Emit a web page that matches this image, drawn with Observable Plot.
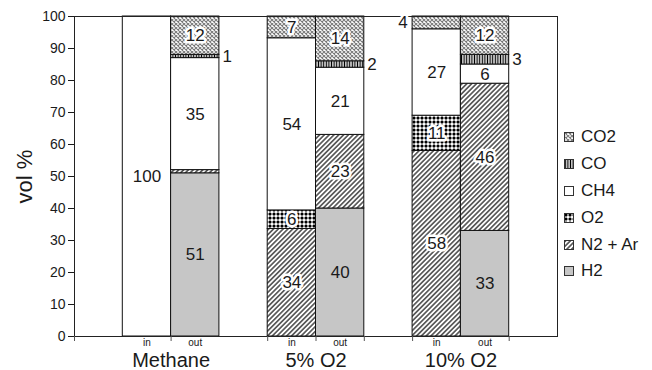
<!DOCTYPE html>
<html>
<head>
<meta charset="utf-8">
<script src="https://cdn.jsdelivr.net/npm/d3@7"></script>
<script src="https://cdn.jsdelivr.net/npm/@observablehq/plot@0.6"></script>
<style>
  body { margin: 0; background: #fff; font-family: Arial, "Liberation Sans", sans-serif; }
  #wrap { position: relative; width: 652px; height: 370px; }
  #legend { position: absolute; left: 564px; top: 124px; font-size: 17px; color: #1a1a1a; }
  .item { display: flex; align-items: center; height: 26.8px; white-space: nowrap; }
  .item svg { margin-right: 7px; }
</style>
</head>
<body>
<svg width="0" height="0" style="position:absolute">
  <defs>
    <pattern id="pat-n2" width="3.4" height="3.4" patternUnits="userSpaceOnUse" patternTransform="rotate(45)">
      <rect width="3.4" height="3.4" fill="white"/>
      <line x1="1.7" y1="0" x2="1.7" y2="3.4" stroke="black" stroke-width="1.1"/>
    </pattern>
    <pattern id="pat-o2" width="4" height="4" patternUnits="userSpaceOnUse">
      <rect width="4" height="4" fill="white"/>
      <path d="M0,2H4M2,0V4" stroke="black" stroke-width="0.3"/>
      <circle cx="2" cy="2" r="1.5" fill="black"/>
    </pattern>
    <pattern id="pat-co" width="2.6" height="4" patternUnits="userSpaceOnUse">
      <rect width="2.6" height="4" fill="white"/>
      <line x1="1.3" y1="0" x2="1.3" y2="4" stroke="black" stroke-width="1.3"/>
    </pattern>
    <pattern id="pat-co2" width="4" height="4" patternUnits="userSpaceOnUse">
      <rect width="4" height="4" fill="white"/>
      <path d="M0,0L4,4M4,0L0,4" stroke="#7a7a7a" stroke-width="1.1"/>
    </pattern>
  </defs>
</svg>
<div id="wrap"><div id="legend"></div></div>
<script>
// Gas composition (vol %) of feed ("in") and product ("out") streams
const groups = ["Methane", "5% O2", "10% O2"];
const stages = ["in", "out"];
const gases = ["H2", "N2 + Ar", "O2", "CH4", "CO", "CO2"];

// one entry per bar: Methane in, Methane out, 5% O2 in, 5% O2 out, 10% O2 in, 10% O2 out
const h2   = [0,   51, 0,    40, 0,  33];
const n2Ar = [0,   1,  33.6, 23, 58, 46];
const o2   = [0,   0,  5.8,  0,  11, 0];
const ch4  = [100, 35, 53.8, 21, 27, 6];
const co   = [0,   1,  0,    2,  0,  3];
const co2  = [0,   12, 6.8,  14, 4,  12];

const yTicks = [0, 10, 20, 30, 40, 50, 60, 70, 80, 90, 100];
const xTickSlots = [0, 2, 4, 5, 6, 7, 9];

const fills = {
  "H2": "#c6c6c6",
  "N2 + Ar": "url(#pat-n2)",
  "O2": "url(#pat-o2)",
  "CH4": "white",
  "CO": "url(#pat-co)",
  "CO2": "url(#pat-co2)"
};

// segments that carry no value label
const unlabeled = new Set(["Methane out|N2 + Ar"]);

const series = [h2, n2Ar, o2, ch4, co, co2];
const rows = [];
const centers = [];
groups.forEach((group, gi) => {
  stages.forEach((stage, si) => {
    const bar = gi * 2 + si;
    const slot = 1 + gi * 3 + si; // an empty slot separates each pair of bars
    centers.push({pos: slot + 0.5, label: stage});
    let base = 0;
    gases.forEach((gas, k) => {
      const value = series[k][bar];
      if (value > 0) {
        rows.push({group, stage, gas, value, x1: slot, x2: slot + 1, y1: base, y2: base + value,
                   key: `${group} ${stage}|${gas}`});
      }
      base += value;
    });
  });
});
const groupCenters = groups.map((g, gi) => ({pos: 2 + gi * 3, label: g}));

const fmt = d3.format(".0f");
const labelled = rows.filter(d => !unlabeled.has(d.key));
const inside = labelled.filter(d => d.value >= 5);
const plain = inside.filter(d => d.gas === "H2" || d.gas === "CH4");
const boxed = inside.filter(d => !(d.gas === "H2" || d.gas === "CH4"));
const outRight = labelled.filter(d => d.value < 5 && d.gas !== "CO2");
const outLeft = labelled.filter(d => d.value < 5 && d.gas === "CO2");

const mid = d => (d.y1 + d.y2) / 2;
const cx = d => (d.x1 + d.x2) / 2;
const ink = "#1a1a1a";

const chart = Plot.plot({
  width: 652,
  height: 370,
  marginLeft: 74,
  marginRight: 95,
  marginTop: 16,
  marginBottom: 34,
  style: {fontFamily: "Arial, 'Liberation Sans', sans-serif", color: ink, background: "white"},
  x: {domain: [0, 10]},
  y: {domain: [0, 100]},
  color: {type: "ordinal", domain: gases, range: gases.map(g => fills[g])},
  marks: [
    Plot.rect(rows, {x1: "x1", x2: "x2", y1: "y1", y2: "y2", fill: "gas", stroke: "#111", strokeWidth: 1}),
    Plot.frame({stroke: "#222"}),
    Plot.axisY({ticks: yTicks, tickSize: 6, tickPadding: 3, fontSize: 14, label: null}),
    Plot.axisY({ticks: [], label: "vol %", labelAnchor: "center", labelArrow: "none", labelOffset: 58, fontSize: 22, dy: -5}),
    Plot.axisX({ticks: xTickSlots, tickFormat: () => "", tickSize: 5, label: null, stroke: "#555"}),
    Plot.axisX({ticks: centers.map(d => d.pos), tickFormat: (v, i) => centers[i].label, tickSize: 0, tickPadding: 2, fontSize: 10, label: null}),
    Plot.axisX({ticks: groupCenters.map(d => d.pos), tickFormat: (v, i) => groupCenters[i].label, tickSize: 0, tickPadding: 16, fontSize: 20, label: null}),
    Plot.text(plain, {x: cx, y: mid, text: d => fmt(d.value), fontSize: 17, fill: ink}),
    Plot.text(boxed, {x: cx, y: mid, text: d => fmt(d.value), fontSize: 17, fill: ink, stroke: "white", strokeWidth: 5}),
    Plot.text(outRight, {x: "x2", y: mid, text: d => fmt(d.value), fontSize: 17, fill: ink, textAnchor: "start", dx: 3, stroke: "white", strokeWidth: 4}),
    Plot.text(outLeft, {x: "x1", y: mid, text: d => fmt(d.value), fontSize: 17, fill: ink, textAnchor: "end", dx: -5, stroke: "white", strokeWidth: 5})
  ]
});

document.getElementById("wrap").prepend(chart);

// legend, top entry first
const legend = d3.select("#legend");
gases.slice().reverse().forEach(gas => {
  const item = legend.append("div").attr("class", "item");
  const sw = item.append("svg").attr("width", 10).attr("height", 10);
  sw.append("rect").attr("x", 0.5).attr("y", 0.5).attr("width", 9).attr("height", 9)
    .attr("fill", fills[gas]).attr("stroke", "#333").attr("stroke-width", 1);
  item.append("span").text(gas);
});
</script>
</body>
</html>
